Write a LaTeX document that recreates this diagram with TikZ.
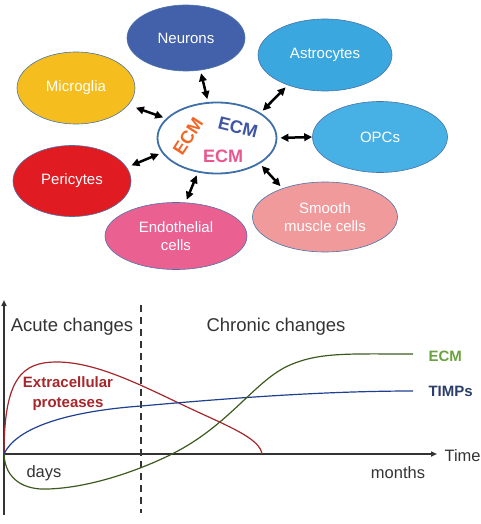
\documentclass[tikz,border=0pt]{standalone}
\usepackage{fontspec}
\setmainfont{Liberation Sans}
\usepackage{xcolor}
\usetikzlibrary{shapes.geometric,arrows.meta}
\definecolor{neurblue}{HTML}{4361AA}
\definecolor{astroblue}{HTML}{3AA7DF}
\definecolor{opcblue}{HTML}{47B0E4}
\definecolor{microyellow}{HTML}{F5BE1E}
\definecolor{perired}{HTML}{E11B22}
\definecolor{endopink}{HTML}{EA6090}
\definecolor{smoothpink}{HTML}{F09A9C}
\definecolor{cellrim}{HTML}{4A73A8}
\definecolor{hubrim}{HTML}{3F6FA8}
\definecolor{ecmorange}{HTML}{F26522}
\definecolor{ecmblue}{HTML}{3F55A5}
\definecolor{ecmpink}{HTML}{E9578F}
\definecolor{protred}{HTML}{A6262B}
\definecolor{timpblue}{HTML}{1F3F8F}
\definecolor{timptext}{HTML}{2B3D6B}
\definecolor{ecmgreen}{HTML}{3D5A1E}
\definecolor{ecmlight}{HTML}{6AA23D}
\definecolor{axisgray}{HTML}{333333}
\tikzset{
  cell/.style={
    ellipse, draw=cellrim, line width=0.6pt,
    text=white, align=center, inner sep=0pt,
    font=\fontsize{15}{18}\selectfont},
  hub/.style={
    ellipse, draw=hubrim, fill=white, line width=1.8pt, inner sep=0pt},
  ecmtext/.style={font=\fontsize{18}{20}\selectfont\bfseries, inner sep=0pt},
  dblarrow/.style={
    {Triangle[length=8pt,width=7.5pt]}-{Triangle[length=8pt,width=7.5pt]},
    line width=2.5pt, black, shorten >=3pt, shorten <=3pt},
  axis/.style={-{Triangle[length=6pt,width=5pt]}, line width=1.5pt, draw=axisgray},
  phase/.style={text=axisgray, font=\fontsize{18.5}{20}\selectfont},
  axlabel/.style={text=axisgray, font=\fontsize{16.5}{18}\selectfont},
  curvelabel/.style={font=\fontsize{15}{20}\selectfont\bfseries, align=center},
  curve/.style={line width=1.2pt},
}
\begin{document}
\begin{tikzpicture}[x=1pt,y=-1pt]
  \useasboundingbox (0,0) rectangle (480,524);
  \node[cell, fill=neurblue, minimum width=118pt, minimum height=66pt] (neur) at (186,38) {Neurons};
  \node[cell, fill=astroblue, minimum width=134pt, minimum height=72pt] (astro) at (325,55) {Astrocytes};
  \node[cell, fill=microyellow, minimum width=118pt, minimum height=72pt] (micro) at (76,88) {Microglia};
  \node[cell, fill=opcblue, minimum width=135pt, minimum height=71pt] (opc) at (380,137) {OPCs};
  \node[cell, fill=perired, minimum width=118pt, minimum height=71pt] (peri) at (72,181) {Pericytes};
  \node[cell, fill=endopink, minimum width=142pt, minimum height=67pt] (endo) at (176,236) {Endothelial\\cells};
  \node[cell, fill=smoothpink, minimum width=145pt, minimum height=70pt] (smooth) at (325,217) {Smooth\\muscle cells};
  \node[hub, minimum width=119pt, minimum height=71pt] (ecm) at (217,138) {};
  \node[ecmtext, text=ecmorange, rotate=57] (ecmA) at (188,136) {ECM};
  \node[ecmtext, text=ecmblue, rotate=-14] (ecmB) at (238,127) {ECM};
  \node[ecmtext, text=ecmpink] (ecmC) at (223,156) {ECM};
  \draw[dblarrow] (neur.-66) -- (ecm.104);
  \draw[dblarrow] (astro.-141) -- (ecm.30);
  \draw[dblarrow, shorten <=8pt] (micro.-18) -- (ecm.159);
  \draw[dblarrow, shorten <=0pt] (opc.180) -- (ecm.0);
  \draw[dblarrow, shorten <=5pt] (peri.14) -- (ecm.195);
  \draw[dblarrow] (endo.74) -- (ecm.241);
  \draw[dblarrow] (smooth.146) -- (ecm.-31);

  \coordinate (O) at (4,454);
  \coordinate (ytop) at (4,300);
  \coordinate (ybot) at (4,515);
  \coordinate (xend) at (437,454);
  \coordinate (dtop) at (141,305);
  \coordinate (dbot) at (141,513);
  \draw[axis] (ybot) -- (ytop);
  \draw[axis] (O) -- (xend);
  \draw[line width=1.3pt, draw=axisgray, dash pattern=on 7pt off 5pt] (dtop) -- (dbot);
  \node[phase] (acute) at (72,327) {Acute changes};
  \node[phase] (chronic) at (276,327) {Chronic changes};
  \node[axlabel, anchor=west] (time) at (441,456) {Time};
  \node[axlabel] (days) at (44,473) {days};
  \node[axlabel] (months) at (398,473) {months};

  \draw[curve, protred] (O) .. controls (4,378) and (22,362) .. (57,362)
    .. controls (100,362) and (150,390) .. (200,413)
    .. controls (235,429) and (260,440) .. (262,454);
  \draw[curve, timpblue] (O) .. controls (15,430) and (60,412) .. (141,406)
    .. controls (220,399) and (320,391) .. (413,391);
  \draw[curve, ecmgreen] (O) .. controls (5,480) and (25,490) .. (47,489)
    .. controls (90,488) and (140,470) .. (172,454)
    .. controls (230,425) and (255,380) .. (290,365)
    .. controls (320,352) and (350,354) .. (413,354);
  \node[curvelabel, text=protred] (prot) at (68,394) {Extracellular\\proteases};
  \node[curvelabel, text=ecmlight, anchor=west] (ecmlab) at (425,356) {ECM};
  \node[curvelabel, text=timptext, anchor=west] (timps) at (425,391) {TIMPs};
\end{tikzpicture}
\end{document}
